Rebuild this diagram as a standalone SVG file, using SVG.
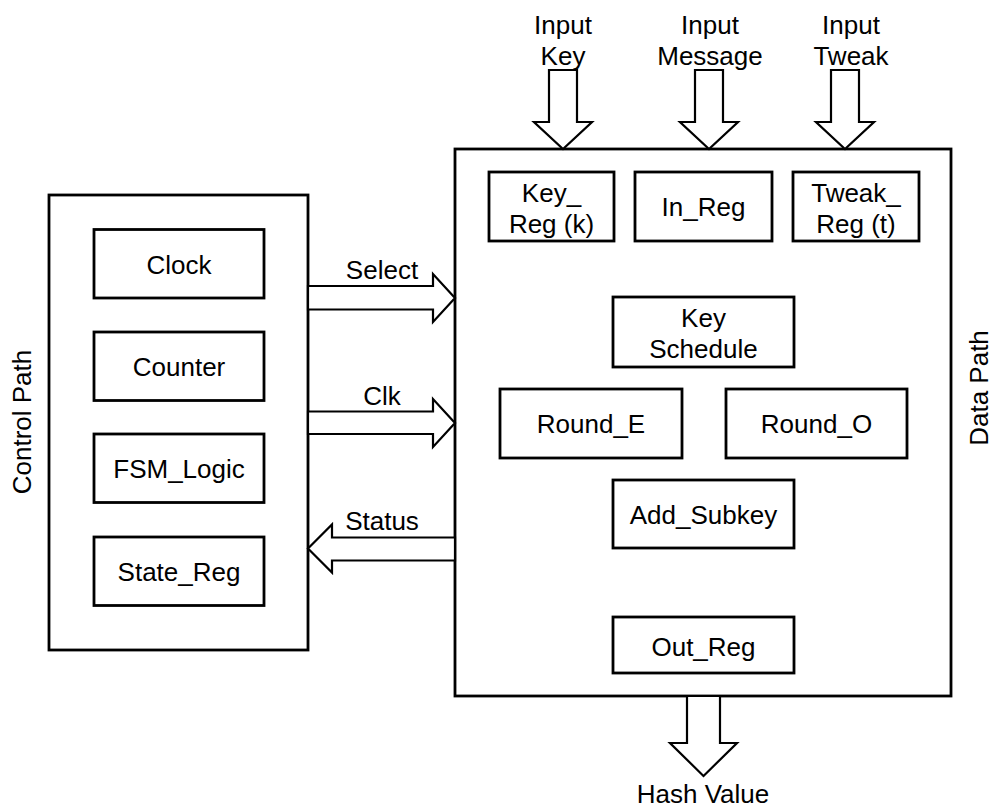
<svg xmlns="http://www.w3.org/2000/svg" width="994" height="808" viewBox="0 0 994 808">
  <style>
    .box { fill: #ffffff; stroke: #000000; stroke-width: 2.8; }
    .arrow { fill: #ffffff; stroke: #000000; stroke-width: 2.2; stroke-linejoin: miter; }
    text { font-family: "Liberation Sans", Arial, sans-serif; font-size: 26px; fill: #000000; text-anchor: middle; }
  </style>
  <rect x="0" y="0" width="994" height="808" fill="#ffffff"/>

  <!-- Control path container -->
  <g id="control-path">
    <rect class="box" x="49" y="195" width="259" height="455"/>
    <text transform="translate(31,422) rotate(-90)">Control Path</text>
  </g>
  <g id="clock">
    <rect class="box" x="94" y="229.5" width="170" height="68.5"/>
    <text x="179" y="273.5">Clock</text>
  </g>
  <g id="counter">
    <rect class="box" x="94" y="332" width="170" height="68.5"/>
    <text x="179" y="375.5">Counter</text>
  </g>
  <g id="fsm-logic">
    <rect class="box" x="94" y="434" width="170" height="68.5"/>
    <text x="179" y="478">FSM_Logic</text>
  </g>
  <g id="state-reg">
    <rect class="box" x="94" y="537" width="170" height="68.5"/>
    <text x="179" y="581">State_Reg</text>
  </g>

  <!-- Data path container -->
  <g id="data-path">
    <rect class="box" x="455" y="149" width="496" height="547"/>
    <text transform="translate(988,388) rotate(-90)">Data Path</text>
  </g>
  <g id="key-reg">
    <rect class="box" x="489" y="172" width="125" height="69"/>
    <text x="551.5" y="202">Key_</text>
    <text x="551.5" y="232.5">Reg (k)</text>
  </g>
  <g id="in-reg">
    <rect class="box" x="635" y="172" width="137" height="69"/>
    <text x="703.5" y="216">In_Reg</text>
  </g>
  <g id="tweak-reg">
    <rect class="box" x="793" y="172" width="126" height="69"/>
    <text x="856" y="202">Tweak_</text>
    <text x="856" y="232.5">Reg (t)</text>
  </g>
  <g id="key-schedule">
    <rect class="box" x="613" y="297" width="181" height="70"/>
    <text x="703.5" y="327">Key</text>
    <text x="703.5" y="357.5">Schedule</text>
  </g>
  <g id="round-e">
    <rect class="box" x="500" y="389" width="182" height="69"/>
    <text x="591" y="433">Round_E</text>
  </g>
  <g id="round-o">
    <rect class="box" x="726" y="389" width="181" height="69"/>
    <text x="816.5" y="433">Round_O</text>
  </g>
  <g id="add-subkey">
    <rect class="box" x="613" y="480" width="181" height="68"/>
    <text x="703.5" y="523.5">Add_Subkey</text>
  </g>
  <g id="out-reg">
    <rect class="box" x="613" y="617" width="181" height="56"/>
    <text x="703.5" y="655.5">Out_Reg</text>
  </g>

  <!-- Block-arrow connectors -->
  <g id="connectors">
    <g id="input-key">
      <polygon class="arrow" points="549,70 577,70 577,122 592,122 563,149 534,122 549,122"/>
      <text x="563" y="34">Input</text>
      <text x="563" y="65">Key</text>
    </g>
    <g id="input-message">
      <polygon class="arrow" points="695,70 723,70 723,122 738,122 709,149 680,122 695,122"/>
      <text x="710" y="34">Input</text>
      <text x="710" y="65">Message</text>
    </g>
    <g id="input-tweak">
      <polygon class="arrow" points="831,70 859,70 859,122 874,122 845,149 816,122 831,122"/>
      <text x="851" y="34">Input</text>
      <text x="851" y="65">Tweak</text>
    </g>
    <g id="select">
      <polygon class="arrow" points="308,286 433,286 433,274 455,298 433,322 433,309.5 308,309.5"/>
      <text x="382" y="278.5">Select</text>
    </g>
    <g id="clk">
      <polygon class="arrow" points="308,411.5 433,411.5 433,399 455,423 433,447 433,434 308,434"/>
      <text x="382" y="405">Clk</text>
    </g>
    <g id="status">
      <polygon class="arrow" points="455,537.5 332,537.5 332,524.5 308,548.5 332,572.5 332,560.5 455,560.5"/>
      <text x="382" y="530">Status</text>
    </g>
    <g id="hash-value">
      <polygon class="arrow" points="687,696 720,696 720,743 737,743 703.5,776 670,743 687,743"/>
      <text x="703" y="803">Hash Value</text>
    </g>
  </g>
</svg>
